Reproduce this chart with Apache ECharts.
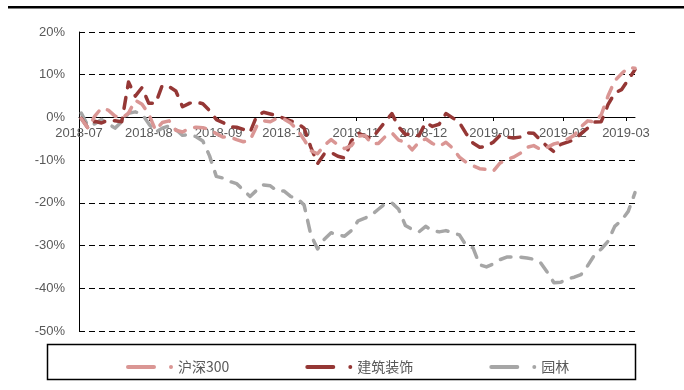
<!DOCTYPE html>
<html>
<head>
<meta charset="utf-8">
<script src="https://cdn.jsdelivr.net/npm/echarts@6/dist/echarts.min.js"></script>
<style>
    html, body { margin: 0; padding: 0; background: #fff; }
    #chart { width: 684px; height: 390px; }
</style>
</head>
<body>
<div id="chart"></div>
<script>
// sampled every 3 calendar days, values in %
const dates = [
    '2018-07-02', '2018-07-05', '2018-07-08', '2018-07-11', '2018-07-14', '2018-07-17', '2018-07-20', '2018-07-23', '2018-07-26', '2018-07-29',
    '2018-08-01', '2018-08-04', '2018-08-07', '2018-08-10', '2018-08-13', '2018-08-16', '2018-08-19', '2018-08-22', '2018-08-25', '2018-08-28', '2018-08-31',
    '2018-09-03', '2018-09-06', '2018-09-09', '2018-09-12', '2018-09-15', '2018-09-18', '2018-09-21', '2018-09-24', '2018-09-27', '2018-09-30',
    '2018-10-03', '2018-10-06', '2018-10-09', '2018-10-12', '2018-10-15', '2018-10-18', '2018-10-21', '2018-10-24', '2018-10-27', '2018-10-30',
    '2018-11-02', '2018-11-05', '2018-11-08', '2018-11-11', '2018-11-14', '2018-11-17', '2018-11-20', '2018-11-23', '2018-11-26', '2018-11-29',
    '2018-12-02', '2018-12-05', '2018-12-08', '2018-12-11', '2018-12-14', '2018-12-17', '2018-12-20', '2018-12-23', '2018-12-26', '2018-12-29',
    '2019-01-01', '2019-01-04', '2019-01-07', '2019-01-10', '2019-01-13', '2019-01-16', '2019-01-19', '2019-01-22', '2019-01-25', '2019-01-28', '2019-01-31',
    '2019-02-03', '2019-02-06', '2019-02-09', '2019-02-12', '2019-02-15', '2019-02-18', '2019-02-21', '2019-02-24', '2019-02-27',
    '2019-03-02', '2019-03-05'
];

const hs300 = [
    -0.3, -2.5, 0.3, 2.2, 1.7, 0.3, -0.2, 1.0, 4.0, 3.1,
    0.8, -3.0, -1.2, -0.8, -3.0, -3.4, -2.6, -2.3, -2.4, -2.8, -3.8,
    -4.6, -4.6, -5.2, -5.7, -5.3, -2.0, -0.8, -1.0, -0.2, -0.4,
    -1.3, -2.9, -5.2, -7.8, -8.5, -6.5, -5.2, -6.4, -7.3, -6.6,
    -4.4, -4.2, -6.2, -6.1, -4.5, -3.6, -5.3, -5.8, -7.6, -5.8,
    -5.0, -6.1, -6.8, -5.8, -7.2, -9.3, -10.5, -11.3, -12.0, -12.2,
    -12.6, -10.7, -9.9, -9.3, -8.4, -7.0, -6.6, -7.5, -7.0, -6.2, -5.8,
    -5.1, -4.2, -2.2, -0.8, -1.1, 0.6, 5.0, 8.6, 10.2,
    11.7, 11.5
];

const jzzs = [
    -0.2, -2.5, -0.9, -1.3, -0.6, -0.8, -1.0, 8.3, 5.0, 7.0,
    3.3, 3.3, 7.5, 7.2, 6.2, 2.5, 3.3, 3.6, 3.2, 1.6, -0.5,
    -1.2, -2.2, -2.3, -2.8, -3.5, 0.4, 1.2, 0.8, 0.4, -0.2,
    -0.8, -1.4, -2.5, -7.0, -10.8, -8.5, -8.2, -9.1, -9.5, -5.5,
    -3.6, -4.4, -5.0, -3.0, -1.0, 0.9, -2.2, -4.0, -3.8, -4.3,
    -1.2, -2.1, -1.6, 0.9, -0.1, -1.2, -3.8, -6.0, -7.0, -6.8,
    -5.8, -4.2, -4.6, -4.8, -4.6, -3.6, -3.7, -5.3, -6.8, -8.0, -6.3,
    -5.8, -5.2, -3.8, -2.5, -1.1, -1.0, 3.0, 5.7, 6.5,
    8.8, 11.2
];

const yuanlin = [
    1.0, -2.0, -1.5, -0.5, -1.5, -2.5, -1.0, 1.0, 1.3, 0.8,
    -1.5, -3.5, -2.5, -2.0, -2.8, -4.2, -4.0, -4.5, -5.5, -9.0, -13.8,
    -14.2, -15.0, -15.5, -17.0, -18.5, -17.0, -15.8, -16.0, -17.2, -17.2,
    -18.5, -19.0, -20.5, -27.5, -30.8, -28.5, -27.0, -27.5, -27.8, -26.5,
    -24.2, -23.6, -22.8, -21.5, -20.2, -20.0, -21.5, -25.3, -26.2, -26.8,
    -25.5, -26.5, -26.8, -26.5, -27.0, -27.5, -30.0, -30.5, -34.5, -35.0,
    -34.3, -33.3, -32.7, -32.7, -32.7, -32.9, -33.2, -34.0, -36.2, -38.7, -38.6,
    -37.8, -37.4, -36.8, -34.7, -32.2, -30.8, -29.0, -25.5, -24.1,
    -22.0, -17.6
];

const seriesNames = ['沪深300', '建筑装饰', '园林'];
const seriesColors = ['#DA9694', '#953735', '#A6A6A6'];

const chart = echarts.init(document.getElementById('chart'));

function toPairs (values) {
    return dates.map(function (d, i) { return [d, values[i]]; });
}

const legendIcon = 'path://M2,0 L28,0 A2,2 0 0 1 28,4 L2,4 A2,2 0 0 1 2,0 Z M43,2 A2,2 0 1 1 47,2 A2,2 0 1 1 43,2 Z';

const options = {
    animation: false,
    textStyle: { fontFamily: 'Liberation Sans, Arial, sans-serif' },
    color: seriesColors,
    grid: {
        left: 79,
        right: 49,
        top: 32,
        bottom: 59,
        containLabel: false
    },
    graphic: [
        {
            type: 'rect',
            shape: { x: 8, y: 6, width: 676, height: 2.5 },
            style: { fill: '#000' }
        },
        {
            type: 'rect',
            shape: { x: 47.5, y: 344.5, width: 588, height: 35 },
            style: { fill: 'none', stroke: '#000', lineWidth: 1.5 }
        }
    ],
    legend: {
        left: 121,
        top: 355,
        itemWidth: 47,
        itemHeight: 4,
        itemGap: 76,
        icon: legendIcon,
        itemStyle: { borderWidth: 0 },
        textStyle: {
            fontFamily: 'Noto Sans CJK SC',
            fontSize: 14,
            color: '#595959'
        },
        data: seriesNames
    },
    xAxis: {
        type: 'time',
        min: '2018-07-01',
        max: '2019-03-05',
        splitNumber: 8,
        minInterval: 28 * 86400000,
        maxInterval: 31 * 86400000,
        position: 'bottom',
        offset: -214, // sit on the 0% line, labels follow
        axisLine: { onZero: false, lineStyle: { color: '#000', width: 1 } },
        axisTick: { show: true, length: 4, lineStyle: { color: '#000' } },
        axisLabel: {
            formatter: '{yyyy}-{MM}',
            color: '#595959',
            fontSize: 13,
            margin: 10,
            showMaxLabel: false
        },
        splitLine: { show: false }
    },
    yAxis: {
        type: 'value',
        min: -50,
        max: 20,
        interval: 10,
        axisLine: { show: true, lineStyle: { color: '#000', width: 1 } },
        axisTick: { show: false },
        axisLabel: {
            formatter: '{value}%',
            color: '#595959',
            fontSize: 13,
            margin: 14
        },
        splitLine: {
            lineStyle: { color: '#000', type: [6, 4], width: 1 }
        }
    },
    series: [hs300, jzzs, yuanlin].map(function (values, i) {
        return {
            name: seriesNames[i],
            type: 'line',
            data: toPairs(values),
            showSymbol: false,
            symbol: 'none',
            lineStyle: {
                color: seriesColors[i],
                width: 3.5,
                type: [11, 10],
                cap: 'round',
                join: 'round'
            },
            itemStyle: { color: seriesColors[i] },
            z: 3 - i
        };
    })
};

chart.setOption(options);
</script>
</body>
</html>
